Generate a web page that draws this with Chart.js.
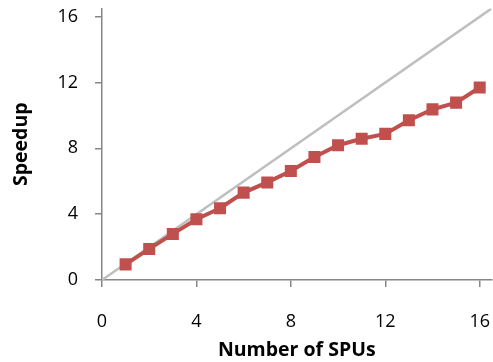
<!DOCTYPE html>
<html>
<head>
<meta charset="utf-8">
<script src="https://cdn.jsdelivr.net/npm/chart.js@4/dist/chart.umd.min.js"></script>
<style>
  html, body { margin: 0; padding: 0; background: #fff; overflow: hidden; }
  #wrap { position: absolute; left: 0; top: 0; width: 500px; height: 362px; }
</style>
</head>
<body>
<div id="wrap"><canvas id="c"></canvas></div>
<script>
const spuCounts = [1, 2, 3, 4, 5, 6, 7, 8, 9, 10, 11, 12, 13, 14, 15, 16];
const speedups = [0.95, 1.89, 2.80, 3.69, 4.36, 5.31, 5.93, 6.62, 7.47, 8.19, 8.58, 8.88, 9.71, 10.37, 10.78, 11.70];
const idealX = [0, 16.5];
const idealY = [0, 16.5];
const xTickValues = [0, 4, 8, 12, 16];
const yTickValues = [0, 4, 8, 12, 16];
const xTitle = 'Number of SPUs';
const yTitle = 'Speedup';

const axisColor = '#868686';
const fam = '"Open Sans", "Liberation Sans", sans-serif';
const tickFont = { family: fam, size: 18 };
const titleFont = { family: fam, size: 19.5, weight: 'bold' };

function noPad(axis) {
  axis.paddingLeft = 0; axis.paddingRight = 0; axis.paddingTop = 0; axis.paddingBottom = 0;
}

const chart = new Chart(document.getElementById('c'), {
  type: 'scatter',
  data: {
    datasets: [
      {
        label: 'Ideal',
        data: idealX.map((x, i) => ({ x, y: idealY[i] })),
        showLine: true,
        borderColor: '#BFBFBF',
        borderWidth: 2.5,
        pointRadius: 0,
        order: 2
      },
      {
        label: 'Speedup',
        data: spuCounts.map((x, i) => ({ x, y: speedups[i] })),
        showLine: true,
        borderColor: '#C0504D',
        backgroundColor: '#C0504D',
        borderWidth: 4,
        pointStyle: 'rect',
        pointRadius: 8.5,
        pointBorderWidth: 0,
        order: 1
      }
    ]
  },
  options: {
    responsive: true,
    maintainAspectRatio: false,
    animation: false,
    layout: { padding: { left: 0, right: 3, top: 7, bottom: 0 } },
    plugins: { legend: { display: false }, tooltip: { enabled: false } },
    scales: {
      x: {
        type: 'linear',
        min: 0,
        max: 16.5,
        afterBuildTicks: (axis) => { axis.ticks = xTickValues.map(v => ({ value: v })); },
        afterFit: (axis) => { axis.height = 82; noPad(axis); },
        ticks: { font: tickFont, color: '#000', padding: 24, maxRotation: 0 },
        grid: { drawOnChartArea: false, drawTicks: true, tickLength: 7, color: axisColor, lineWidth: 1.5 },
        border: { color: axisColor, width: 1.5 },
        title: { display: true, text: xTitle, font: titleFont, color: '#000', padding: { top: 0, bottom: 0 } }
      },
      y: {
        type: 'linear',
        min: 0,
        max: 16.5,
        afterBuildTicks: (axis) => { axis.ticks = yTickValues.map(v => ({ value: v })); },
        afterFit: (axis) => { axis.width = 102; noPad(axis); },
        ticks: { font: tickFont, color: '#000', padding: 17 },
        grid: { drawOnChartArea: false, drawTicks: true, tickLength: 7, color: axisColor, lineWidth: 1.5 },
        border: { color: axisColor, width: 1.5 },
        title: { display: true, text: yTitle, font: titleFont, color: '#000', padding: { top: 10, bottom: 0 } }
      }
    }
  }
});
</script>
</body>
</html>
